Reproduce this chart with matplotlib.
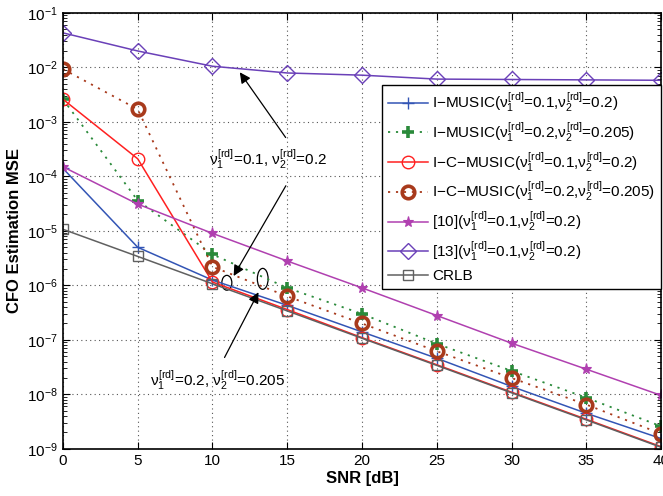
import matplotlib
matplotlib.use("Agg")
import matplotlib.pyplot as plt
from matplotlib.patches import Ellipse
from matplotlib.ticker import LogLocator, NullFormatter

plt.rcParams['font.family'] = ['Liberation Sans', 'DejaVu Sans']
plt.rcParams['mathtext.fontset'] = 'custom'
plt.rcParams['mathtext.rm'] = 'Liberation Sans'
plt.rcParams['mathtext.it'] = 'Liberation Sans'
plt.rcParams['mathtext.bf'] = 'Liberation Sans:bold'

# data
snr = [0, 5, 10, 15, 20, 25, 30, 35, 40]
i_music_1 = [1.4e-4, 5.0e-6, 1.25e-6, 4.3e-7, 1.4e-7, 4.6e-8, 1.4e-8, 4.5e-9, 1.55e-9]
i_music_2 = [2.6e-3, 3.6e-5, 3.7e-6, 9.0e-7, 3.0e-7, 8.5e-8, 2.7e-8, 8.7e-9, 2.6e-9]
ic_music_1 = [2.6e-3, 2.1e-4, 1.15e-6, 3.6e-7, 1.1e-7, 3.5e-8, 1.1e-8, 3.5e-9, 1.1e-9]
ic_music_2 = [9.3e-3, 1.7e-3, 2.2e-6, 6.3e-7, 2.0e-7, 6.2e-8, 2.0e-8, 6.5e-9, 1.9e-9]
ref10 = [1.5e-4, 3.1e-5, 9.0e-6, 2.8e-6, 9.0e-7, 2.8e-7, 8.7e-8, 2.9e-8, 9.6e-9]
ref13 = [4.3e-2, 2.0e-2, 1.05e-2, 7.9e-3, 7.2e-3, 6.1e-3, 6.0e-3, 5.9e-3, 5.8e-3]
crlb = [1.07e-5, 3.4e-6, 1.07e-6, 3.4e-7, 1.07e-7, 3.4e-8, 1.07e-8, 3.4e-9, 1.07e-9]

nu = r'$\nu_1^{[rd]}$=%s,$\nu_2^{[rd]}$=%s'
labels = ['I\u2212MUSIC(' + nu % ('0.1', '0.2') + ')',
          'I\u2212MUSIC(' + nu % ('0.2', '0.205') + ')',
          'I\u2212C\u2212MUSIC(' + nu % ('0.1', '0.2') + ')',
          'I\u2212C\u2212MUSIC(' + nu % ('0.2', '0.205') + ')',
          '[10](' + nu % ('0.1', '0.2') + ')',
          '[13](' + nu % ('0.1', '0.2') + ')',
          'CRLB']

dots = (0, (1.2, 3.2))

fig = plt.figure(figsize=(6.63, 4.96), dpi=100)
ax = fig.add_axes([0.095, 0.095, 0.902, 0.879])

ax.plot(snr, i_music_1, '-', color='#3355b5', marker='+', ms=9, mew=1.0, lw=1.1, label=labels[0])
ax.plot(snr, i_music_2, linestyle=dots, color='#2a8a3a', marker='+', ms=9, mew=2.6, lw=1.3, label=labels[1])
ax.plot(snr, ic_music_1, '-', color='#ff2020', marker='o', ms=9, mfc='none', mew=1.0, lw=1.1, label=labels[2])
ax.plot(snr, ic_music_2, linestyle=dots, color='#a83a1c', marker='o', ms=9, mfc='none', mew=2.6, lw=1.3, label=labels[3])
ax.plot(snr, ref10, '-', color='#b040b0', marker='*', ms=8, mew=0.8, lw=1.1, label=labels[4])
ax.plot(snr, ref13, '-', color='#6a40b8', marker='D', ms=8, mfc='none', mew=1.0, lw=1.1, label=labels[5])
ax.plot(snr, crlb, '-', color='#606060', marker='s', ms=7, mfc='none', mew=1.0, lw=1.1, label=labels[6])

ax.set_yscale('log')
ax.set_xlim(0, 40)
ax.set_ylim(1e-9, 1e-1)
ax.set_xticks(snr)
ax.yaxis.set_major_locator(LogLocator(base=10, numticks=12))
ax.yaxis.set_minor_locator(LogLocator(base=10, subs=range(2, 10), numticks=12))
ax.yaxis.set_minor_formatter(NullFormatter())
ax.tick_params(which='both', direction='in', top=True, right=True, labelsize=11)
ax.tick_params(which='major', length=5)
ax.tick_params(which='minor', length=3)
ax.grid(True, which='major', linestyle=(0, (1, 3)), color='#555555', lw=0.8)
for s in ax.spines.values():
    s.set_linewidth(1.2)

ax.set_xlabel('SNR [dB]', fontsize=12, fontweight='bold', labelpad=2)
ax.set_ylabel('CFO Estimation MSE', fontsize=12, fontweight='bold', labelpad=4)

leg = ax.legend(loc='upper left', bbox_to_anchor=(0.533, 0.835), borderaxespad=0,
                fontsize=11, handlelength=2.6, handletextpad=0.3, fancybox=False,
                framealpha=1, edgecolor='black', labelspacing=0.42, borderpad=0.4)
leg.get_frame().set_linewidth(1.0)

# annotations
ax.text(0.343, 0.663, r'$\nu_1^{[rd]}$=0.1, $\nu_2^{[rd]}$=0.2', transform=ax.transAxes,
        ha='center', va='center', fontsize=11)
ax.text(0.259, 0.158, r'$\nu_1^{[rd]}$=0.2, $\nu_2^{[rd]}$=0.205', transform=ax.transAxes,
        ha='center', va='center', fontsize=11)
arrow = dict(arrowstyle='-|>', color='black', lw=0.9, mutation_scale=16)
ax.annotate('', xy=(0.293, 0.869), xytext=(0.375, 0.709), xycoords='axes fraction', arrowprops=arrow)
ax.annotate('', xy=(0.283, 0.391), xytext=(0.375, 0.609), xycoords='axes fraction', arrowprops=arrow)
ax.annotate('', xy=(0.329, 0.365), xytext=(0.268, 0.204), xycoords='axes fraction', arrowprops=arrow)
ax.add_patch(Ellipse((0.274, 0.381), 0.0167, 0.034, transform=ax.transAxes, fill=False, lw=0.9, color='black'))
ax.add_patch(Ellipse((0.334, 0.390), 0.018, 0.048, transform=ax.transAxes, fill=False, lw=0.9, color='black'))

fig.savefig('out.png', dpi=100)
